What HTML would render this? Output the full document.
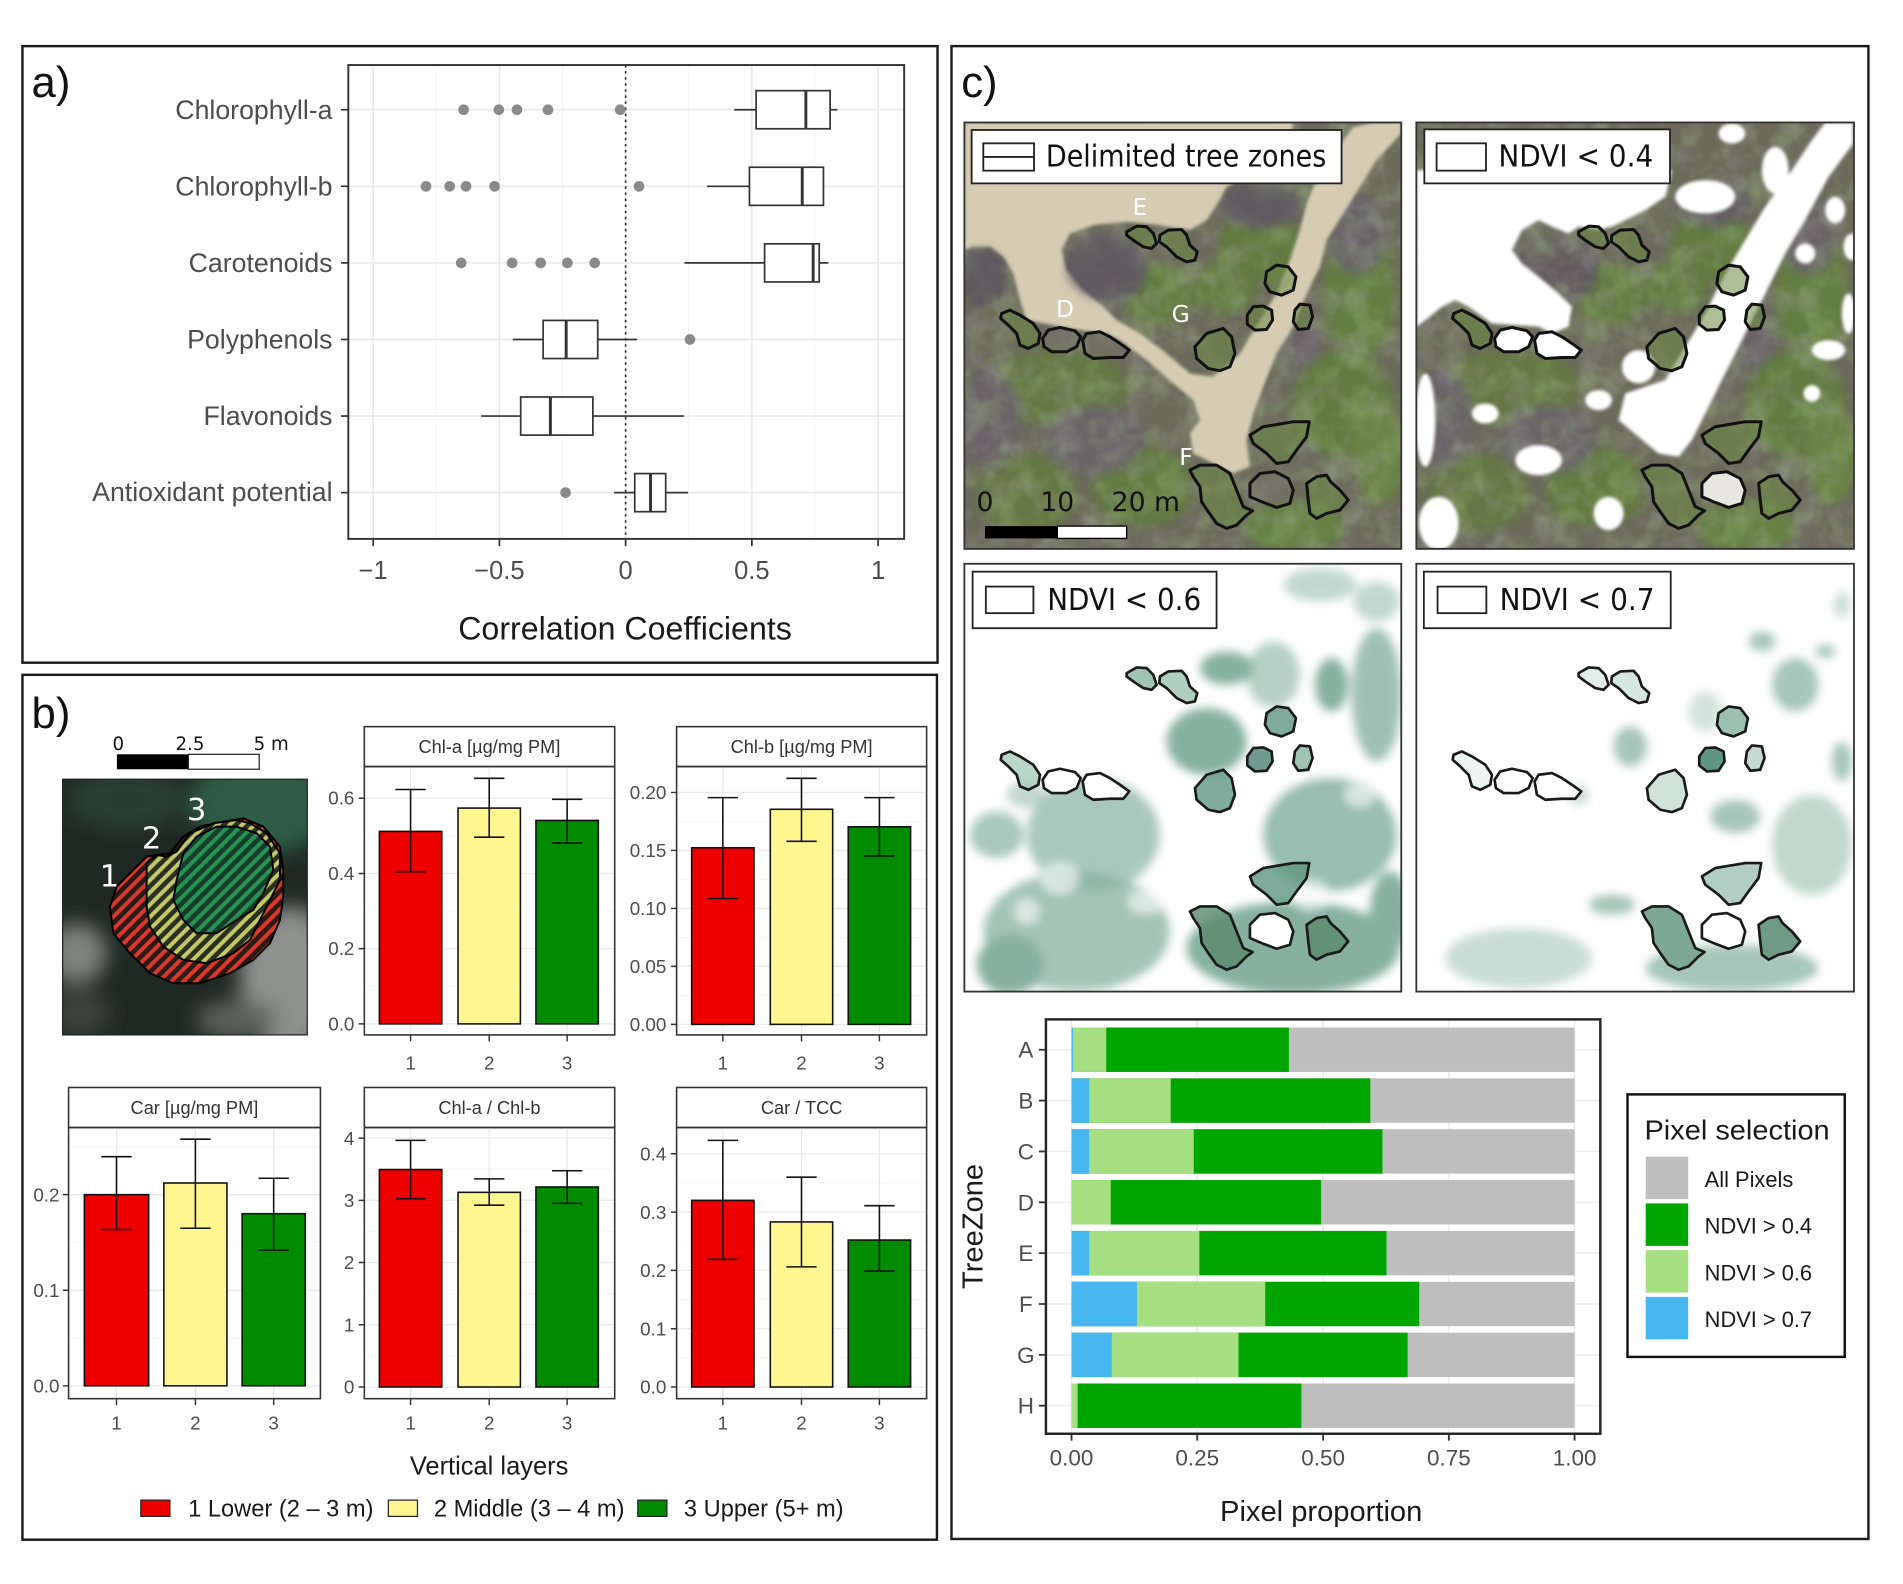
<!DOCTYPE html>
<html><head><meta charset="utf-8"><style>html,body{margin:0;padding:0;background:#fff}svg{display:block}</style></head>
<body>
<svg xmlns="http://www.w3.org/2000/svg" xmlns:xlink="http://www.w3.org/1999/xlink" width="1903" height="1584" viewBox="0 0 1568 1305.1" preserveAspectRatio="none" font-family="'Liberation Sans', Arial, sans-serif">
<defs>
  <clipPath id="mapclip"><rect x="13" y="7" width="1311" height="1282"/></clipPath>
  <clipPath id="insclip"><rect x="38" y="178" width="734" height="767"/></clipPath>
  <filter id="blur" x="-30%" y="-30%" width="160%" height="160%"><feGaussianBlur stdDeviation="14"/></filter>
  <filter id="blurs" x="-10%" y="-10%" width="120%" height="120%"><feGaussianBlur stdDeviation="5"/></filter>
  <filter id="blurb" x="-30%" y="-30%" width="160%" height="160%"><feGaussianBlur stdDeviation="30"/></filter>
  <filter id="noiseG" x="0" y="0" width="100%" height="100%"><feTurbulence type="fractalNoise" baseFrequency="0.012" numOctaves="3" seed="7"/><feColorMatrix type="matrix" values="0 0 0 0 0.38  0 0 0 0 0.53  0 0 0 0 0.24  0 0 0 1.6 -0.7"/></filter>
  <filter id="noiseP" x="0" y="0" width="100%" height="100%"><feTurbulence type="fractalNoise" baseFrequency="0.014" numOctaves="3" seed="21"/><feColorMatrix type="matrix" values="0 0 0 0 0.40  0 0 0 0 0.38  0 0 0 0 0.41  0 0 0 1.6 -0.72"/></filter>
  <pattern id="hr" patternUnits="userSpaceOnUse" width="26" height="26" patternTransform="rotate(45)"><rect width="26" height="26" fill="#2b1a15"/><rect width="12" height="26" fill="#d8392a"/></pattern>
  <pattern id="hy" patternUnits="userSpaceOnUse" width="26" height="26" patternTransform="rotate(45)"><rect width="26" height="26" fill="#2a3020"/><rect width="12" height="26" fill="#c3c866"/></pattern>
  <pattern id="hg" patternUnits="userSpaceOnUse" width="26" height="26" patternTransform="rotate(45)"><rect width="26" height="26" fill="#173d2a"/><rect width="12" height="26" fill="#259355"/></pattern>
  <path id="pE1" d="M500,335 L530,318 L560,320 L580,340 L590,370 L575,385 L550,380 L520,360 L500,345 Z"/>
  <path id="pE2" d="M600,345 L625,330 L665,328 L680,345 L690,375 L712,395 L705,420 L680,425 L650,410 L620,380 L598,365 Z"/>
  <path id="pA" d="M920,455 L950,435 L985,440 L1008,470 L1000,510 L965,525 L930,515 L915,490 Z"/>
  <path id="pB" d="M862,585 L880,560 L910,558 L935,570 L938,600 L920,628 L885,630 L862,612 Z"/>
  <path id="pC" d="M1005,570 L1020,552 L1050,555 L1058,590 L1045,625 L1015,628 L1000,605 Z"/>
  <path id="pG" d="M705,680 L740,640 L790,625 L815,650 L825,700 L810,740 L780,752 L745,745 L710,715 Z"/>
  <path id="pD1" d="M125,580 L150,570 L180,585 L220,610 L240,640 L235,670 L205,685 L180,675 L170,640 L145,615 L122,595 Z"/>
  <path id="pD2" d="M248,655 L265,630 L300,622 L345,632 L362,650 L350,680 L320,695 L275,695 L252,680 Z"/>
  <path id="pD3" d="M368,660 L380,640 L420,635 L450,650 L480,670 L508,690 L490,712 L450,712 L400,715 L375,700 Z"/>
  <path id="pFu" d="M870,945 L910,920 L1000,905 L1048,905 L1040,950 L1010,990 L985,1025 L950,1030 L920,1000 L880,970 Z"/>
  <path id="pFl" d="M690,1050 L720,1035 L770,1035 L810,1060 L830,1110 L850,1160 L878,1172 L860,1185 L830,1215 L800,1225 L770,1210 L745,1175 L725,1145 L720,1100 L700,1070 Z"/>
  <path id="pM" d="M870,1090 L900,1060 L945,1055 L985,1075 L1000,1110 L990,1150 L950,1162 L905,1145 L870,1130 Z"/>
  <path id="pR" d="M1040,1090 L1070,1070 L1100,1065 L1112,1085 L1140,1110 L1165,1140 L1140,1170 L1100,1180 L1070,1195 L1050,1180 L1045,1140 Z"/>
  <g id="trees">
    <rect x="13" y="7" width="1311" height="1282" fill="#6b6a5b"/>
    <g filter="url(#blur)" opacity="0.75">
      <ellipse cx="600" cy="520" rx="120" ry="90" fill="#5f8039"/>
      <ellipse cx="900" cy="380" rx="130" ry="100" fill="#5f8039"/>
      <ellipse cx="1200" cy="520" rx="110" ry="200" fill="#62843b"/>
      <ellipse cx="1150" cy="850" rx="150" ry="160" fill="#5f8039"/>
      <ellipse cx="300" cy="800" rx="200" ry="120" fill="#627d3c"/>
      <ellipse cx="550" cy="1100" rx="150" ry="120" fill="#5f8039"/>
      <ellipse cx="1000" cy="1220" rx="150" ry="80" fill="#66893c"/>
      <ellipse cx="200" cy="1120" rx="150" ry="120" fill="#627d3c"/>
      <ellipse cx="800" cy="500" rx="90" ry="80" fill="#5f8039"/>
      <ellipse cx="1260" cy="1000" rx="80" ry="150" fill="#6a8c40"/>
      <ellipse cx="430" cy="450" rx="130" ry="110" fill="#5e5960"/>
      <ellipse cx="70" cy="470" rx="70" ry="90" fill="#575158"/>
      <ellipse cx="400" cy="960" rx="150" ry="100" fill="#69626a"/>
      <ellipse cx="90" cy="900" rx="90" ry="150" fill="#69626a"/>
      <ellipse cx="1000" cy="650" rx="90" ry="100" fill="#6a646a"/>
      <ellipse cx="1190" cy="340" rx="90" ry="120" fill="#67626a"/>
      <ellipse cx="900" cy="250" rx="120" ry="70" fill="#605c62"/>
    </g>
    <rect x="13" y="7" width="1311" height="1282" filter="url(#noiseG)" opacity="0.55"/>
    <rect x="13" y="7" width="1311" height="1282" filter="url(#noiseP)" opacity="0.45"/>
  </g>
</defs>

<!-- ================= PANEL A ================= -->
<rect x="18.5" y="38" width="754" height="508" fill="none" stroke="#1a1a1a" stroke-width="2"/>
<text x="26" y="80" font-size="36" fill="#111">a)</text>
<rect x="287" y="53.6" width="458" height="390.4" fill="#fff"/>
<g stroke="#f3f3f3" stroke-width="0.8">
  <line x1="359.5" y1="53.6" x2="359.5" y2="444"/><line x1="463.5" y1="53.6" x2="463.5" y2="444"/>
  <line x1="567.5" y1="53.6" x2="567.5" y2="444"/><line x1="671.5" y1="53.6" x2="671.5" y2="444"/>
</g>
<g stroke="#e8e8e8" stroke-width="1.3">
  <line x1="307.5" y1="53.6" x2="307.5" y2="444"/><line x1="411.5" y1="53.6" x2="411.5" y2="444"/>
  <line x1="515.5" y1="53.6" x2="515.5" y2="444"/><line x1="619.5" y1="53.6" x2="619.5" y2="444"/>
  <line x1="723.5" y1="53.6" x2="723.5" y2="444"/>
  <line x1="287" y1="90.4" x2="745" y2="90.4"/><line x1="287" y1="153.5" x2="745" y2="153.5"/>
  <line x1="287" y1="216.6" x2="745" y2="216.6"/><line x1="287" y1="279.7" x2="745" y2="279.7"/>
  <line x1="287" y1="342.8" x2="745" y2="342.8"/><line x1="287" y1="405.9" x2="745" y2="405.9"/>
</g>
<line x1="515.5" y1="53.6" x2="515.5" y2="444" stroke="#222" stroke-width="1.3" stroke-dasharray="2,3"/>
<g stroke="#333" stroke-width="1.4" fill="#fff">
  <line x1="605" y1="90.4" x2="623" y2="90.4"/><line x1="684" y1="90.4" x2="690" y2="90.4"/>
  <rect x="623" y="74.7" width="61" height="31.4"/><line x1="664" y1="74.7" x2="664" y2="106.1" stroke-width="2.4"/>
  <line x1="582.5" y1="153.5" x2="617.5" y2="153.5"/>
  <rect x="617.5" y="137.8" width="61" height="31.4"/><line x1="661" y1="137.8" x2="661" y2="169.2" stroke-width="2.4"/>
  <line x1="564" y1="216.6" x2="630" y2="216.6"/><line x1="675" y1="216.6" x2="682.5" y2="216.6"/>
  <rect x="630" y="200.9" width="45" height="31.4"/><line x1="670" y1="200.9" x2="670" y2="232.3" stroke-width="2.4"/>
  <line x1="422.5" y1="279.7" x2="447.5" y2="279.7"/><line x1="492.5" y1="279.7" x2="525" y2="279.7"/>
  <rect x="447.5" y="264" width="45" height="31.4"/><line x1="466.5" y1="264" x2="466.5" y2="295.4" stroke-width="2.4"/>
  <line x1="396.5" y1="342.8" x2="429" y2="342.8"/><line x1="488.5" y1="342.8" x2="563.5" y2="342.8"/>
  <rect x="429" y="327.1" width="59.5" height="31.4"/><line x1="453.5" y1="327.1" x2="453.5" y2="358.5" stroke-width="2.4"/>
  <line x1="506" y1="405.9" x2="523" y2="405.9"/><line x1="548.5" y1="405.9" x2="567" y2="405.9"/>
  <rect x="523" y="390.2" width="25.5" height="31.4"/><line x1="536" y1="390.2" x2="536" y2="421.6" stroke-width="2.4"/>
</g>
<g fill="#8a8a8a">
  <circle cx="382" cy="90.4" r="4.4"/><circle cx="411" cy="90.4" r="4.4"/><circle cx="426" cy="90.4" r="4.4"/><circle cx="451.5" cy="90.4" r="4.4"/><circle cx="511" cy="90.4" r="4.4"/>
  <circle cx="351" cy="153.5" r="4.4"/><circle cx="370.5" cy="153.5" r="4.4"/><circle cx="384" cy="153.5" r="4.4"/><circle cx="407.5" cy="153.5" r="4.4"/><circle cx="526.5" cy="153.5" r="4.4"/>
  <circle cx="380" cy="216.6" r="4.4"/><circle cx="422" cy="216.6" r="4.4"/><circle cx="445.5" cy="216.6" r="4.4"/><circle cx="467.5" cy="216.6" r="4.4"/><circle cx="490" cy="216.6" r="4.4"/>
  <circle cx="568.5" cy="279.7" r="4.4"/>
  <circle cx="466" cy="405.9" r="4.4"/>
</g>
<rect x="287" y="53.6" width="458" height="390.4" fill="none" stroke="#333" stroke-width="1.6"/>
<g stroke="#333" stroke-width="1.4">
  <line x1="281" y1="90.4" x2="287" y2="90.4"/><line x1="281" y1="153.5" x2="287" y2="153.5"/>
  <line x1="281" y1="216.6" x2="287" y2="216.6"/><line x1="281" y1="279.7" x2="287" y2="279.7"/>
  <line x1="281" y1="342.8" x2="287" y2="342.8"/><line x1="281" y1="405.9" x2="287" y2="405.9"/>
  <line x1="307.5" y1="444" x2="307.5" y2="450"/><line x1="411.5" y1="444" x2="411.5" y2="450"/>
  <line x1="515.5" y1="444" x2="515.5" y2="450"/><line x1="619.5" y1="444" x2="619.5" y2="450"/>
  <line x1="723.5" y1="444" x2="723.5" y2="450"/>
</g>
<g font-size="22" fill="#4d4d4d" text-anchor="end">
  <text x="274" y="98">Chlorophyll-a</text>
  <text x="274" y="161">Chlorophyll-b</text>
  <text x="274" y="224">Carotenoids</text>
  <text x="274" y="287">Polyphenols</text>
  <text x="274" y="350">Flavonoids</text>
  <text x="274" y="413">Antioxidant potential</text>
</g>
<g font-size="21" fill="#4d4d4d" text-anchor="middle">
  <text x="307.5" y="477">−1</text><text x="411.5" y="477">−0.5</text><text x="515.5" y="477">0</text>
  <text x="619.5" y="477">0.5</text><text x="723.5" y="477">1</text>
</g>
<text x="515" y="527" font-size="26.5" fill="#1a1a1a" text-anchor="middle">Correlation Coefficients</text>

<!-- ================= PANEL B ================= -->
<rect x="18.5" y="556" width="753.5" height="712.6" fill="none" stroke="#1a1a1a" stroke-width="2"/>
<text x="26" y="600" font-size="36" fill="#111">b)</text>

<g font-family="'DejaVu Sans', Verdana, sans-serif" font-size="15" fill="#111">
  <text x="97.5" y="618" text-anchor="middle">0</text>
  <text x="156.5" y="618" text-anchor="middle">2.5</text>
  <text x="209" y="618">5 m</text>
</g>
<rect x="96.3" y="621.5" width="58.9" height="12.3" fill="#000"/>
<rect x="155.2" y="621.5" width="58.4" height="12.3" fill="#fff" stroke="#222" stroke-width="1"/>

<g transform="translate(41.2,593.2) scale(0.2746)">
  <g clip-path="url(#insclip)">
    <rect x="38" y="178" width="734" height="767" fill="#1f2924"/>
    <g filter="url(#blurb)">
      <ellipse cx="640" cy="250" rx="220" ry="150" fill="#2f5c44"/>
      <ellipse cx="230" cy="240" rx="180" ry="90" fill="#2b3e34"/>
      <ellipse cx="80" cy="700" rx="90" ry="90" fill="#7c8480"/>
      <ellipse cx="720" cy="780" rx="150" ry="220" fill="#8e918d"/>
      <ellipse cx="560" cy="900" rx="120" ry="60" fill="#5c615d"/>
      <ellipse cx="90" cy="880" rx="90" ry="70" fill="#3a423e"/>
    </g>
    <path d="M180,560 L200,500 L240,460 L290,410 L320,405 L360,400 L400,350 L450,320 L520,305 L580,295 L640,320 L690,380 L700,450 L700,530 L690,600 L660,670 L610,720 L540,760 L450,790 L370,790 L300,760 L240,700 L190,640 Z" fill="url(#hr)" stroke="#000" stroke-width="6"/>
    <path d="M290,560 L290,430 L320,405 L350,410 L380,395 L420,340 L490,310 L560,300 L600,310 L650,340 L690,400 L690,480 L660,540 L630,600 L600,660 L550,700 L470,730 L400,720 L340,680 L300,620 Z" fill="url(#hy)" stroke="#000" stroke-width="6"/>
    <path d="M380,480 L400,400 L440,350 L500,320 L560,320 L620,340 L660,380 L670,450 L640,520 L610,570 L560,600 L500,640 L440,640 L400,600 L370,540 Z" fill="url(#hg)" stroke="#000" stroke-width="6"/>
    <g font-family="'DejaVu Sans', Verdana, sans-serif" font-size="92" fill="#fff" text-anchor="middle">
      <text x="178" y="500">1</text><text x="305" y="385">2</text><text x="440" y="300">3</text>
    </g>
  </g>
</g>
<rect x="51.6" y="642" width="201.6" height="210.7" fill="none" stroke="#222" stroke-width="1"/>

<g font-size="15.5" fill="#4d4d4d">
<!-- Facet Chl-a -->
<rect x="300.2" y="598.7" width="206.3" height="32.9" fill="#fff" stroke="#333" stroke-width="1.3"/>
<text x="403.3" y="620.5" text-anchor="middle" font-size="15" fill="#333">Chl-a [µg/mg PM]</text>
<g stroke="#f4f4f4" stroke-width="0.7"><line x1="300.2" y1="812.6" x2="506.5" y2="812.6"/><line x1="300.2" y1="750.7" x2="506.5" y2="750.7"/><line x1="300.2" y1="688.7" x2="506.5" y2="688.7"/></g>
<g stroke="#e9e9e9" stroke-width="1.1"><line x1="300.2" y1="843.6" x2="506.5" y2="843.6"/><line x1="300.2" y1="781.6" x2="506.5" y2="781.6"/><line x1="300.2" y1="719.7" x2="506.5" y2="719.7"/><line x1="300.2" y1="657.7" x2="506.5" y2="657.7"/>
<line x1="338.3" y1="631.6" x2="338.3" y2="852.7"/><line x1="403.1" y1="631.6" x2="403.1" y2="852.7"/><line x1="467.3" y1="631.6" x2="467.3" y2="852.7"/></g>
<g stroke="#111" stroke-width="1.3">
<rect x="312.6" y="685" width="51.4" height="158.6" fill="#ee0000"/>
<rect x="377.4" y="665.8" width="51.4" height="177.8" fill="#fff68f"/>
<rect x="441.6" y="676" width="51.4" height="167.6" fill="#008b00"/>
<path d="M338.3,650.5 V718.2 M325.8,650.5 H350.8 M325.8,718.2 H350.8 M403.1,641.3 V689.8 M390.6,641.3 H415.6 M390.6,689.8 H415.6 M467.3,658.6 V694.6 M454.8,658.6 H479.8 M454.8,694.6 H479.8" fill="none"/>
</g>
<rect x="300.2" y="631.6" width="206.3" height="221.1" fill="none" stroke="#333" stroke-width="1.3"/>
<g stroke="#333" stroke-width="1.2"><path d="M295.5,843.6 H300.2 M295.5,781.6 H300.2 M295.5,719.7 H300.2 M295.5,657.7 H300.2 M338.3,852.7 V858 M403.1,852.7 V858 M467.3,852.7 V858"/></g>
<g text-anchor="end"><text x="292" y="849">0.0</text><text x="292" y="787">0.2</text><text x="292" y="725">0.4</text><text x="292" y="663">0.6</text></g>
<g text-anchor="middle"><text x="338.3" y="881">1</text><text x="403.1" y="881">2</text><text x="467.3" y="881">3</text></g>

<!-- Facet Chl-b -->
<rect x="557.5" y="598.7" width="206" height="32.9" fill="#fff" stroke="#333" stroke-width="1.3"/>
<text x="660.5" y="620.5" text-anchor="middle" font-size="15" fill="#333">Chl-b [µg/mg PM]</text>
<g stroke="#f4f4f4" stroke-width="0.7"><line x1="557.5" y1="820.1" x2="763.5" y2="820.1"/><line x1="557.5" y1="772.4" x2="763.5" y2="772.4"/><line x1="557.5" y1="724.6" x2="763.5" y2="724.6"/><line x1="557.5" y1="676.8" x2="763.5" y2="676.8"/></g>
<g stroke="#e9e9e9" stroke-width="1.1"><line x1="557.5" y1="844" x2="763.5" y2="844"/><line x1="557.5" y1="796.2" x2="763.5" y2="796.2"/><line x1="557.5" y1="748.5" x2="763.5" y2="748.5"/><line x1="557.5" y1="700.7" x2="763.5" y2="700.7"/><line x1="557.5" y1="652.9" x2="763.5" y2="652.9"/>
<line x1="595.6" y1="631.6" x2="595.6" y2="852.7"/><line x1="660.4" y1="631.6" x2="660.4" y2="852.7"/><line x1="724.6" y1="631.6" x2="724.6" y2="852.7"/></g>
<g stroke="#111" stroke-width="1.3">
<rect x="569.9" y="698.5" width="51.4" height="145.5" fill="#ee0000"/>
<rect x="634.7" y="666.8" width="51.4" height="177.2" fill="#fff68f"/>
<rect x="698.9" y="681.2" width="51.4" height="162.8" fill="#008b00"/>
<path d="M595.6,657.2 V740.3 M583.1,657.2 H608.1 M583.1,740.3 H608.1 M660.4,641.3 V693.2 M647.9,641.3 H672.9 M647.9,693.2 H672.9 M724.6,657.2 V705.2 M712.1,657.2 H737.1 M712.1,705.2 H737.1" fill="none"/>
</g>
<rect x="557.5" y="631.6" width="206" height="221.1" fill="none" stroke="#333" stroke-width="1.3"/>
<g stroke="#333" stroke-width="1.2"><path d="M552.8,844 H557.5 M552.8,796.2 H557.5 M552.8,748.5 H557.5 M552.8,700.7 H557.5 M552.8,652.9 H557.5 M595.6,852.7 V858 M660.4,852.7 V858 M724.6,852.7 V858"/></g>
<g text-anchor="end"><text x="549" y="849.5">0.00</text><text x="549" y="801.7">0.05</text><text x="549" y="754">0.10</text><text x="549" y="706.2">0.15</text><text x="549" y="658.4">0.20</text></g>
<g text-anchor="middle"><text x="595.6" y="881">1</text><text x="660.4" y="881">2</text><text x="724.6" y="881">3</text></g>

<!-- Facet Car -->
<rect x="56.5" y="896" width="207.5" height="33" fill="#fff" stroke="#333" stroke-width="1.3"/>
<text x="160.2" y="918" text-anchor="middle" font-size="15" fill="#333">Car [µg/mg PM]</text>
<g stroke="#f4f4f4" stroke-width="0.7"><line x1="56.5" y1="1102.4" x2="264" y2="1102.4"/><line x1="56.5" y1="1023.7" x2="264" y2="1023.7"/><line x1="56.5" y1="944.9" x2="264" y2="944.9"/></g>
<g stroke="#e9e9e9" stroke-width="1.1"><line x1="56.5" y1="1141.8" x2="264" y2="1141.8"/><line x1="56.5" y1="1063.1" x2="264" y2="1063.1"/><line x1="56.5" y1="984.3" x2="264" y2="984.3"/>
<line x1="96" y1="929" x2="96" y2="1152.4"/><line x1="161" y1="929" x2="161" y2="1152.4"/><line x1="225.5" y1="929" x2="225.5" y2="1152.4"/></g>
<g stroke="#111" stroke-width="1.3">
<rect x="69.5" y="984.3" width="53" height="157.5" fill="#ee0000"/>
<rect x="135" y="974.7" width="52" height="167.1" fill="#fff68f"/>
<rect x="199.5" y="1000" width="52" height="141.8" fill="#008b00"/>
<path d="M96,953 V1013 M83.5,953 H108.5 M83.5,1013 H108.5 M161,938.6 V1012 M148.5,938.6 H173.5 M148.5,1012 H173.5 M225.5,970.8 V1030 M213,970.8 H238 M213,1030 H238" fill="none"/>
</g>
<rect x="56.5" y="929" width="207.5" height="223.4" fill="none" stroke="#333" stroke-width="1.3"/>
<g stroke="#333" stroke-width="1.2"><path d="M51.8,1141.8 H56.5 M51.8,1063.1 H56.5 M51.8,984.3 H56.5 M96,1152.4 V1157.7 M161,1152.4 V1157.7 M225.5,1152.4 V1157.7"/></g>
<g text-anchor="end"><text x="49" y="1147.3">0.0</text><text x="49" y="1068.6">0.1</text><text x="49" y="989.8">0.2</text></g>
<g text-anchor="middle"><text x="96" y="1178">1</text><text x="161" y="1178">2</text><text x="225.5" y="1178">3</text></g>

<!-- Facet Chl-a / Chl-b -->
<rect x="300.2" y="896" width="206.3" height="33" fill="#fff" stroke="#333" stroke-width="1.3"/>
<text x="403.3" y="918" text-anchor="middle" font-size="15" fill="#333">Chl-a / Chl-b</text>
<g stroke="#f4f4f4" stroke-width="0.7"><line x1="300.2" y1="1117.2" x2="506.5" y2="1117.2"/><line x1="300.2" y1="1065.9" x2="506.5" y2="1065.9"/><line x1="300.2" y1="1014.6" x2="506.5" y2="1014.6"/><line x1="300.2" y1="963.3" x2="506.5" y2="963.3"/></g>
<g stroke="#e9e9e9" stroke-width="1.1"><line x1="300.2" y1="1142.8" x2="506.5" y2="1142.8"/><line x1="300.2" y1="1091.5" x2="506.5" y2="1091.5"/><line x1="300.2" y1="1040.2" x2="506.5" y2="1040.2"/><line x1="300.2" y1="989" x2="506.5" y2="989"/><line x1="300.2" y1="937.7" x2="506.5" y2="937.7"/>
<line x1="338.3" y1="929" x2="338.3" y2="1152.4"/><line x1="403.1" y1="929" x2="403.1" y2="1152.4"/><line x1="467.3" y1="929" x2="467.3" y2="1152.4"/></g>
<g stroke="#111" stroke-width="1.3">
<rect x="312.6" y="963.6" width="51.4" height="179.2" fill="#ee0000"/>
<rect x="377.4" y="982.4" width="51.4" height="160.4" fill="#fff68f"/>
<rect x="441.6" y="978" width="51.4" height="164.8" fill="#008b00"/>
<path d="M338.3,939.6 V987.6 M325.8,939.6 H350.8 M325.8,987.6 H350.8 M403.1,971.3 V993 M390.6,971.3 H415.6 M390.6,993 H415.6 M467.3,964.6 V991.5 M454.8,964.6 H479.8 M454.8,991.5 H479.8" fill="none"/>
</g>
<rect x="300.2" y="929" width="206.3" height="223.4" fill="none" stroke="#333" stroke-width="1.3"/>
<g stroke="#333" stroke-width="1.2"><path d="M295.5,1142.8 H300.2 M295.5,1091.5 H300.2 M295.5,1040.2 H300.2 M295.5,989 H300.2 M295.5,937.7 H300.2 M338.3,1152.4 V1157.7 M403.1,1152.4 V1157.7 M467.3,1152.4 V1157.7"/></g>
<g text-anchor="end"><text x="292" y="1148.3">0</text><text x="292" y="1097">1</text><text x="292" y="1045.7">2</text><text x="292" y="994.5">3</text><text x="292" y="943.2">4</text></g>
<g text-anchor="middle"><text x="338.3" y="1178">1</text><text x="403.1" y="1178">2</text><text x="467.3" y="1178">3</text></g>

<!-- Facet Car / TCC -->
<rect x="557.5" y="896" width="206" height="33" fill="#fff" stroke="#333" stroke-width="1.3"/>
<text x="660.5" y="918" text-anchor="middle" font-size="15" fill="#333">Car / TCC</text>
<g stroke="#f4f4f4" stroke-width="0.7"><line x1="557.5" y1="1118.8" x2="763.5" y2="1118.8"/><line x1="557.5" y1="1070.7" x2="763.5" y2="1070.7"/><line x1="557.5" y1="1022.7" x2="763.5" y2="1022.7"/><line x1="557.5" y1="974.6" x2="763.5" y2="974.6"/></g>
<g stroke="#e9e9e9" stroke-width="1.1"><line x1="557.5" y1="1142.8" x2="763.5" y2="1142.8"/><line x1="557.5" y1="1094.8" x2="763.5" y2="1094.8"/><line x1="557.5" y1="1046.7" x2="763.5" y2="1046.7"/><line x1="557.5" y1="998.7" x2="763.5" y2="998.7"/><line x1="557.5" y1="950.6" x2="763.5" y2="950.6"/>
<line x1="595.6" y1="929" x2="595.6" y2="1152.4"/><line x1="660.4" y1="929" x2="660.4" y2="1152.4"/><line x1="724.6" y1="929" x2="724.6" y2="1152.4"/></g>
<g stroke="#111" stroke-width="1.3">
<rect x="569.9" y="989" width="51.4" height="153.8" fill="#ee0000"/>
<rect x="634.7" y="1006.8" width="51.4" height="136" fill="#fff68f"/>
<rect x="698.9" y="1021.7" width="51.4" height="121.1" fill="#008b00"/>
<path d="M595.6,939.6 V1037.6 M583.1,939.6 H608.1 M583.1,1037.6 H608.1 M660.4,969.9 V1043.8 M647.9,969.9 H672.9 M647.9,1043.8 H672.9 M724.6,993.4 V1047.2 M712.1,993.4 H737.1 M712.1,1047.2 H737.1" fill="none"/>
</g>
<rect x="557.5" y="929" width="206" height="223.4" fill="none" stroke="#333" stroke-width="1.3"/>
<g stroke="#333" stroke-width="1.2"><path d="M552.8,1142.8 H557.5 M552.8,1094.8 H557.5 M552.8,1046.7 H557.5 M552.8,998.7 H557.5 M552.8,950.6 H557.5 M595.6,1152.4 V1157.7 M660.4,1152.4 V1157.7 M724.6,1152.4 V1157.7"/></g>
<g text-anchor="end"><text x="549" y="1148.3">0.0</text><text x="549" y="1100.3">0.1</text><text x="549" y="1052.2">0.2</text><text x="549" y="1004.2">0.3</text><text x="549" y="956.1">0.4</text></g>
<g text-anchor="middle"><text x="595.6" y="1178">1</text><text x="660.4" y="1178">2</text><text x="724.6" y="1178">3</text></g>
</g>

<text x="403" y="1215" font-size="21" fill="#1a1a1a" text-anchor="middle">Vertical layers</text>
<g stroke="#222" stroke-width="1">
  <rect x="116" y="1236" width="24" height="13.4" fill="#ee0000"/>
  <rect x="320" y="1236" width="24" height="13.4" fill="#fff68f"/>
  <rect x="525.5" y="1236" width="24" height="13.4" fill="#008b00"/>
</g>
<g font-size="19.5" fill="#1a1a1a">
  <text x="155" y="1249.5">1 Lower (2 – 3 m)</text>
  <text x="357.5" y="1249.5">2 Middle (3 – 4 m)</text>
  <text x="563.5" y="1249.5">3 Upper (5+ m)</text>
</g>

<!-- ================= PANEL C ================= -->
<rect x="784" y="38" width="755.5" height="1230" fill="none" stroke="#1a1a1a" stroke-width="2"/>
<text x="792" y="80" font-size="36" fill="#111">c)</text>

<!-- Map 1 -->
<g transform="translate(791,99) scale(0.2746)">
  <g clip-path="url(#mapclip)">
    <use xlink:href="#trees"/>
    <g fill="#d6ccb4" filter="url(#blurs)">
      <path d="M13,7 L1000,7 L990,80 L900,150 L800,200 L780,240 L740,300 L690,330 L600,315 L500,305 L400,315 L330,340 L305,390 L320,450 L370,510 L430,560 L470,600 L440,640 L330,625 L200,600 L180,540 L160,460 L130,410 L90,380 L40,380 L13,390 Z"/>
      <path d="M470,600 L540,640 L620,700 L690,760 L760,770 L840,700 L900,600 L950,520 L990,420 L1020,330 L1040,250 L1060,200 L1120,100 L1180,20 L1240,7 L1324,7 L1324,40 L1250,120 L1200,200 L1150,280 L1100,360 L1080,440 L1040,520 L1000,620 L950,700 L910,800 L880,880 L860,960 L870,1040 L820,1060 L760,1030 L700,1000 L690,940 L720,900 L700,840 L640,790 L560,720 L480,660 L440,640 Z"/>
    </g>
    <g fill="#5f5a60" opacity="0.8" filter="url(#blur)">
      <ellipse cx="430" cy="440" rx="110" ry="95"/>
      <ellipse cx="70" cy="470" rx="60" ry="80"/>
      <ellipse cx="900" cy="260" rx="110" ry="60"/>
    </g>
    <g fill="#6b8a44" fill-opacity="0.55" stroke="#111" stroke-width="9" stroke-linejoin="round">
      <use xlink:href="#pE1"/><use xlink:href="#pE2"/><use xlink:href="#pA"/><use xlink:href="#pB"/><use xlink:href="#pC"/><use xlink:href="#pG"/>
      <use xlink:href="#pD1"/><use xlink:href="#pD2" fill="#77736a"/><use xlink:href="#pD3" fill="#77736a"/><use xlink:href="#pFu"/><use xlink:href="#pFl"/><use xlink:href="#pM" fill="#77736a"/><use xlink:href="#pR"/>
    </g>
    <g font-family="'DejaVu Sans', Verdana, sans-serif" font-size="70" fill="#fff" text-anchor="middle">
      <text x="540" y="285">E</text><text x="315" y="590">D</text><text x="662" y="605">G</text><text x="678" y="1035">F</text>
    </g>
    <g font-family="'DejaVu Sans', Verdana, sans-serif" font-size="80" fill="#111">
      <text x="75" y="1172" text-anchor="middle">0</text><text x="292" y="1172" text-anchor="middle">10</text><text x="455" y="1172">20 m</text>
    </g>
    <rect x="75" y="1218" width="217" height="37" fill="#000"/>
    <rect x="292" y="1218" width="208" height="37" fill="#fff" stroke="#000" stroke-width="4"/>
  </g>
</g>
<rect x="794.6" y="100.9" width="360" height="351.3" fill="none" stroke="#333" stroke-width="1.5"/>
<rect x="800.6" y="107.1" width="304.8" height="44" fill="#fff" stroke="#222" stroke-width="1.5"/>
<rect x="810.2" y="118.1" width="41.8" height="22.5" fill="#fff" stroke="#222" stroke-width="1.5"/>
<line x1="810.2" y1="129.3" x2="852" y2="129.3" stroke="#222" stroke-width="1.5"/>
<text x="861.8" y="137.3" font-family="'DejaVu Sans', Verdana, sans-serif" font-size="25" fill="#111" textLength="231" lengthAdjust="spacingAndGlyphs">Delimited tree zones</text>

<!-- Map 2 -->
<g transform="translate(1163.4,99) scale(0.2746)">
  <g clip-path="url(#mapclip)">
    <use xlink:href="#trees"/>
    <g fill="#fff" filter="url(#blurs)">
      <path d="M13,150 L780,150 L760,230 L700,270 L640,300 L600,320 L560,330 L500,320 L470,340 L420,320 L380,300 L330,330 L300,390 L330,430 L380,470 L440,520 L480,560 L470,620 L420,640 L380,620 L240,610 L170,560 L130,540 L90,560 L40,600 L13,620 Z"/>
      <path d="M1240,7 L1324,7 L1324,70 L1250,170 L1180,300 L1120,400 L1060,520 L1000,640 L940,760 L880,880 L840,960 L800,1010 L740,1000 L680,950 L620,900 L640,820 L700,800 L760,780 L820,680 L880,580 L940,460 L1000,360 L1060,260 L1140,150 L1200,60 Z"/>
      <ellipse cx="880" cy="230" rx="90" ry="50"/><ellipse cx="1090" cy="150" rx="40" ry="70"/><ellipse cx="960" cy="40" rx="40" ry="30"/>
      <ellipse cx="380" cy="1020" rx="70" ry="45"/><ellipse cx="590" cy="1180" rx="45" ry="50"/><ellipse cx="40" cy="900" rx="30" ry="140"/>
      <ellipse cx="80" cy="1210" rx="60" ry="80"/><ellipse cx="1180" cy="400" rx="30" ry="30"/><ellipse cx="1250" cy="690" rx="50" ry="30"/>
      <ellipse cx="1310" cy="580" rx="20" ry="60"/><ellipse cx="1200" cy="820" rx="25" ry="25"/><ellipse cx="1270" cy="270" rx="30" ry="40"/>
      <ellipse cx="560" cy="840" rx="40" ry="30"/><ellipse cx="680" cy="740" rx="50" ry="50"/><ellipse cx="220" cy="880" rx="40" ry="30"/>
      <ellipse cx="1320" cy="380" rx="25" ry="40"/>
    </g>
    <g fill="#6b8a44" fill-opacity="0.55" stroke="#111" stroke-width="9" stroke-linejoin="round">
      <use xlink:href="#pE1"/><use xlink:href="#pE2"/><use xlink:href="#pA"/><use xlink:href="#pB"/><use xlink:href="#pC"/><use xlink:href="#pG"/>
      <use xlink:href="#pD1"/><use xlink:href="#pD2" fill="#fff" fill-opacity="1"/><use xlink:href="#pD3" fill="#fff" fill-opacity="1"/><use xlink:href="#pFu"/><use xlink:href="#pFl"/><use xlink:href="#pM" fill="#e8e6e0" fill-opacity="1"/><use xlink:href="#pR"/>
    </g>
  </g>
</g>
<rect x="1167" y="100.9" width="360.6" height="351.3" fill="none" stroke="#333" stroke-width="1.5"/>
<rect x="1173.6" y="106.6" width="202.4" height="44.5" fill="#fff" stroke="#222" stroke-width="1.5"/>
<rect x="1183.7" y="118.1" width="40.7" height="22.5" fill="#fff" stroke="#222" stroke-width="1.5"/>
<text x="1234.6" y="137.3" font-family="'DejaVu Sans', Verdana, sans-serif" font-size="25" fill="#111" textLength="127.6" lengthAdjust="spacingAndGlyphs">NDVI &lt; 0.4</text>

<!-- Map 3 -->
<g transform="translate(791,462.6) scale(0.2746)">
  <g clip-path="url(#mapclip)">
    <rect x="13" y="7" width="1311" height="1285" fill="#fff"/>
    <g fill="#5e9682" filter="url(#blur)" opacity="0.75">
      <ellipse cx="1080" cy="70" rx="110" ry="50" opacity="0.5"/>
      <ellipse cx="800" cy="320" rx="80" ry="50"/>
      <ellipse cx="940" cy="340" rx="80" ry="100" opacity="0.6"/>
      <ellipse cx="1115" cy="370" rx="50" ry="80"/>
      <ellipse cx="1250" cy="400" rx="75" ry="200" opacity="0.8"/>
      <ellipse cx="740" cy="540" rx="120" ry="100"/>
      <ellipse cx="400" cy="820" rx="200" ry="170" opacity="0.7"/>
      <ellipse cx="110" cy="820" rx="80" ry="70" opacity="0.7"/>
      <ellipse cx="350" cy="1110" rx="280" ry="180" opacity="0.75"/>
      <ellipse cx="1110" cy="820" rx="200" ry="170" opacity="0.85"/>
      <ellipse cx="1000" cy="1160" rx="320" ry="140"/>
      <ellipse cx="150" cy="1210" rx="100" ry="90"/>
      <ellipse cx="1250" cy="120" rx="70" ry="60" opacity="0.5"/>
      <ellipse cx="200" cy="700" rx="60" ry="40" opacity="0.5"/>
      <ellipse cx="1290" cy="1050" rx="60" ry="120"/>
    </g>
    <g fill="#ffffff" filter="url(#blur)" opacity="0.6">
      <ellipse cx="300" cy="950" rx="60" ry="50"/><ellipse cx="560" cy="1020" rx="60" ry="40"/><ellipse cx="200" cy="1050" rx="40" ry="40"/>
      <ellipse cx="1050" cy="1000" rx="60" ry="50"/><ellipse cx="1200" cy="700" rx="50" ry="40"/>
    </g>
    <g fill="#5e9682" fill-opacity="0.8" stroke="#1a1a1a" stroke-width="8" stroke-linejoin="round">
      <use xlink:href="#pE1" fill="#8ab4a4"/><use xlink:href="#pE2" fill="#9cc0b2"/><use xlink:href="#pA"/><use xlink:href="#pB" fill="#4a8270"/><use xlink:href="#pC" fill="#8ab4a4"/><use xlink:href="#pG"/>
      <use xlink:href="#pD1" fill="#a9cabd"/><use xlink:href="#pD2" fill="#fff" fill-opacity="1"/><use xlink:href="#pD3" fill="#fff" fill-opacity="1"/><use xlink:href="#pFu"/><use xlink:href="#pFl" fill="#5a8a6a"/><use xlink:href="#pM" fill="#fff" fill-opacity="1"/><use xlink:href="#pR" fill="#5a8a6a"/>
    </g>
  </g>
</g>
<rect x="794.6" y="464.5" width="360" height="352.5" fill="none" stroke="#333" stroke-width="1.5"/>
<rect x="801.4" y="471" width="201" height="46.6" fill="#fff" stroke="#222" stroke-width="1.5"/>
<rect x="812.3" y="483.3" width="39.2" height="21.9" fill="#fff" stroke="#222" stroke-width="1.5"/>
<text x="862.9" y="502.5" font-family="'DejaVu Sans', Verdana, sans-serif" font-size="25" fill="#111" textLength="126.8" lengthAdjust="spacingAndGlyphs">NDVI &lt; 0.6</text>

<!-- Map 4 -->
<g transform="translate(1163.4,462.6) scale(0.2746)">
  <g clip-path="url(#mapclip)">
    <rect x="13" y="7" width="1311" height="1285" fill="#fff"/>
    <g fill="#6c9f8c" filter="url(#blur)" opacity="0.6">
      <ellipse cx="1150" cy="370" rx="70" ry="80"/>
      <ellipse cx="1240" cy="270" rx="30" ry="20"/>
      <ellipse cx="655" cy="555" rx="50" ry="60"/>
      <ellipse cx="970" cy="765" rx="75" ry="50"/>
      <ellipse cx="1200" cy="850" rx="120" ry="150" opacity="0.7"/>
      <ellipse cx="600" cy="1030" rx="70" ry="30"/>
      <ellipse cx="320" cy="1190" rx="220" ry="90" opacity="0.6"/>
      <ellipse cx="960" cy="1220" rx="260" ry="70"/>
      <ellipse cx="1050" cy="240" rx="40" ry="30"/>
      <ellipse cx="880" cy="450" rx="50" ry="60" opacity="0.5"/>
      <ellipse cx="1290" cy="600" rx="30" ry="60"/>
      <ellipse cx="500" cy="700" rx="30" ry="30" opacity="0.6"/>
      <ellipse cx="1290" cy="130" rx="25" ry="40" opacity="0.6"/>
    </g>
    <g fill="#5e9682" fill-opacity="0.6" stroke="#1a1a1a" stroke-width="8" stroke-linejoin="round">
      <use xlink:href="#pE1" fill="#e3eeea" fill-opacity="1"/><use xlink:href="#pE2" fill="#d6e6e0" fill-opacity="1"/><use xlink:href="#pA" fill="#9cc0b2" fill-opacity="1"/><use xlink:href="#pB" fill="#5e9682" fill-opacity="1"/><use xlink:href="#pC" fill="#c4dad2" fill-opacity="1"/><use xlink:href="#pG" fill="#d0e2da" fill-opacity="1"/>
      <use xlink:href="#pD1" fill="#eef4f2" fill-opacity="1"/><use xlink:href="#pD2" fill="#fff" fill-opacity="1"/><use xlink:href="#pD3" fill="#fff" fill-opacity="1"/><use xlink:href="#pFu" fill="#b2cec4" fill-opacity="1"/><use xlink:href="#pFl" fill="#7ea896" fill-opacity="1"/><use xlink:href="#pM" fill="#fff" fill-opacity="1"/><use xlink:href="#pR" fill="#6f9a84" fill-opacity="1"/>
    </g>
  </g>
</g>
<rect x="1167" y="464.5" width="360.6" height="352.5" fill="none" stroke="#333" stroke-width="1.5"/>
<rect x="1173.2" y="471" width="203.4" height="46.6" fill="#fff" stroke="#222" stroke-width="1.5"/>
<rect x="1184.5" y="483.3" width="40.2" height="21.9" fill="#fff" stroke="#222" stroke-width="1.5"/>
<text x="1235.6" y="502.5" font-family="'DejaVu Sans', Verdana, sans-serif" font-size="25" fill="#111" textLength="127.7" lengthAdjust="spacingAndGlyphs">NDVI &lt; 0.7</text>

<!-- stacked bar chart -->
<rect x="861.8" y="839.9" width="456.8" height="341.4" fill="#fff"/>
<g stroke="#ebebeb" stroke-width="1.2">
  <line x1="882.9" y1="839.9" x2="882.9" y2="1181.3"/><line x1="986.5" y1="839.9" x2="986.5" y2="1181.3"/>
  <line x1="1090.2" y1="839.9" x2="1090.2" y2="1181.3"/><line x1="1193.8" y1="839.9" x2="1193.8" y2="1181.3"/>
  <line x1="1297.4" y1="839.9" x2="1297.4" y2="1181.3"/>
  <line x1="861.8" y1="864.9" x2="1318.6" y2="864.9"/><line x1="861.8" y1="906.8" x2="1318.6" y2="906.8"/>
  <line x1="861.8" y1="948.7" x2="1318.6" y2="948.7"/><line x1="861.8" y1="990.6" x2="1318.6" y2="990.6"/>
  <line x1="861.8" y1="1032.5" x2="1318.6" y2="1032.5"/><line x1="861.8" y1="1074.4" x2="1318.6" y2="1074.4"/>
  <line x1="861.8" y1="1116.3" x2="1318.6" y2="1116.3"/><line x1="861.8" y1="1158.2" x2="1318.6" y2="1158.2"/>
</g>
<rect x="882.9" y="846.6" width="414.5" height="36.6" fill="#bebebe"/>
<rect x="882.9" y="846.6" width="179.1" height="36.6" fill="#00a600"/>
<rect x="882.9" y="846.6" width="28.6" height="36.6" fill="#a6df82"/>
<rect x="882.9" y="846.6" width="1.2" height="36.6" fill="#46b6ef"/>
<rect x="882.9" y="888.5" width="414.5" height="36.6" fill="#bebebe"/>
<rect x="882.9" y="888.5" width="246.2" height="36.6" fill="#00a600"/>
<rect x="882.9" y="888.5" width="81.7" height="36.6" fill="#a6df82"/>
<rect x="882.9" y="888.5" width="14.5" height="36.6" fill="#46b6ef"/>
<rect x="882.9" y="930.4" width="414.5" height="36.6" fill="#bebebe"/>
<rect x="882.9" y="930.4" width="256.2" height="36.6" fill="#00a600"/>
<rect x="882.9" y="930.4" width="100.7" height="36.6" fill="#a6df82"/>
<rect x="882.9" y="930.4" width="14.5" height="36.6" fill="#46b6ef"/>
<rect x="882.9" y="972.3" width="414.5" height="36.6" fill="#bebebe"/>
<rect x="882.9" y="972.3" width="205.6" height="36.6" fill="#00a600"/>
<rect x="882.9" y="972.3" width="32.3" height="36.6" fill="#a6df82"/>
<rect x="882.9" y="1014.2" width="414.5" height="36.6" fill="#bebebe"/>
<rect x="882.9" y="1014.2" width="259.5" height="36.6" fill="#00a600"/>
<rect x="882.9" y="1014.2" width="105.3" height="36.6" fill="#a6df82"/>
<rect x="882.9" y="1014.2" width="14.5" height="36.6" fill="#46b6ef"/>
<rect x="882.9" y="1056.1" width="414.5" height="36.6" fill="#bebebe"/>
<rect x="882.9" y="1056.1" width="286.4" height="36.6" fill="#00a600"/>
<rect x="882.9" y="1056.1" width="159.6" height="36.6" fill="#a6df82"/>
<rect x="882.9" y="1056.1" width="53.9" height="36.6" fill="#46b6ef"/>
<rect x="882.9" y="1098" width="414.5" height="36.6" fill="#bebebe"/>
<rect x="882.9" y="1098" width="276.9" height="36.6" fill="#00a600"/>
<rect x="882.9" y="1098" width="137.6" height="36.6" fill="#a6df82"/>
<rect x="882.9" y="1098" width="33.2" height="36.6" fill="#46b6ef"/>
<rect x="882.9" y="1139.9" width="414.5" height="36.6" fill="#bebebe"/>
<rect x="882.9" y="1139.9" width="189.4" height="36.6" fill="#00a600"/>
<rect x="882.9" y="1139.9" width="5" height="36.6" fill="#a6df82"/>
<rect x="861.8" y="839.9" width="456.8" height="341.4" fill="none" stroke="#222" stroke-width="2"/>
<g stroke="#333" stroke-width="1.5">
  <path d="M856,864.9 H861.8 M856,906.8 H861.8 M856,948.7 H861.8 M856,990.6 H861.8 M856,1032.5 H861.8 M856,1074.4 H861.8 M856,1116.3 H861.8 M856,1158.2 H861.8"/>
  <path d="M882.9,1181.3 V1187 M986.5,1181.3 V1187 M1090.2,1181.3 V1187 M1193.8,1181.3 V1187 M1297.4,1181.3 V1187"/>
</g>
<g font-size="18.5" fill="#4d4d4d" text-anchor="middle">
  <text x="845.3" y="871.5">A</text><text x="845.3" y="913.4">B</text><text x="845.3" y="955.3">C</text><text x="845.3" y="997.2">D</text>
  <text x="845.3" y="1039.1">E</text><text x="845.3" y="1081">F</text><text x="845.3" y="1122.9">G</text><text x="845.3" y="1164.8">H</text>
  <text x="882.9" y="1207.5">0.00</text><text x="986.5" y="1207.5">0.25</text><text x="1090.2" y="1207.5">0.50</text>
  <text x="1193.8" y="1207.5">0.75</text><text x="1297.4" y="1207.5">1.00</text>
</g>
<text transform="translate(809.5,1010.5) rotate(-90)" font-size="24" fill="#1a1a1a" text-anchor="middle">TreeZone</text>
<text x="1088.6" y="1253" font-size="24" fill="#1a1a1a" text-anchor="middle">Pixel proportion</text>

<rect x="1341" y="901.7" width="179" height="216.3" fill="#fff" stroke="#111" stroke-width="2"/>
<text x="1355" y="939" font-size="23" fill="#1a1a1a" textLength="152.6" lengthAdjust="spacingAndGlyphs">Pixel selection</text>
<rect x="1356" y="953" width="35" height="35" fill="#bebebe"/>
<rect x="1356" y="991.5" width="35" height="35" fill="#00a600"/>
<rect x="1356" y="1030" width="35" height="35" fill="#a6df82"/>
<rect x="1356" y="1068.5" width="35" height="35" fill="#46b6ef"/>
<g font-size="18" fill="#1a1a1a">
  <text x="1404.6" y="978">All Pixels</text>
  <text x="1404.6" y="1016.5">NDVI &gt; 0.4</text>
  <text x="1404.6" y="1055">NDVI &gt; 0.6</text>
  <text x="1404.6" y="1093.5">NDVI &gt; 0.7</text>
</g>
</svg>
</body></html>
